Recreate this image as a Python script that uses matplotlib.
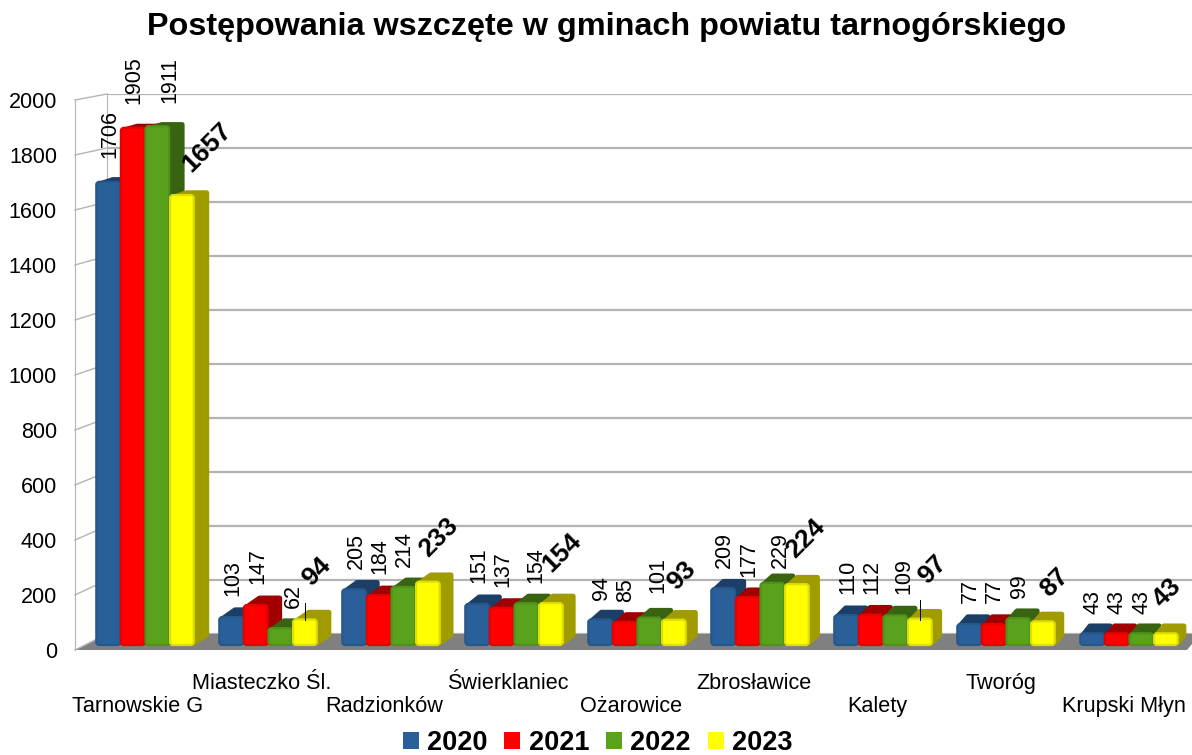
import matplotlib
matplotlib.use("Agg")
import matplotlib.pyplot as plt
from matplotlib.lines import Line2D
from matplotlib.patches import FancyBboxPatch, Patch, Polygon

W, H = 1192, 755

gminy = ["Tarnowskie G", "Miasteczko Śl.", "Radzionków", "Świerklaniec", "Ożarowice",
         "Zbrosławice", "Kalety", "Tworóg", "Krupski Młyn"]
years = ["2020", "2021", "2022", "2023"]
v2020 = [1706, 103, 205, 151, 94, 209, 110, 77, 43]
v2021 = [1905, 147, 184, 137, 85, 177, 112, 77, 43]
v2022 = [1911, 62, 214, 154, 101, 229, 109, 99, 43]
v2023 = [1657, 94, 233, 154, 93, 224, 97, 87, 43]
y_ticks = [0, 200, 400, 600, 800, 1000, 1200, 1400, 1600, 1800, 2000]

face_colors = ["#2a6099", "#ff0000", "#5aa21e", "#ffff00"]
edge_colors = ["#27588c", "#e60000", "#4f9119", "#e0e000"]
side_colors = ["#1b3f66", "#a00000", "#386310", "#a09c00"]

# hand placed label spots (x, bottom of text) in image pixels, as in the original
label_spots = [
    [(110, 158), (134, 104), (170, 103)],
    [(233, 596), (258, 584), (293, 608)],
    [(356, 569), (380, 574), (404, 567)],
    [(479, 583), (503, 587), (536, 583)],
    [(601, 600), (626, 602), (658, 593)],
    [(724, 568), (749, 577), (780, 568)],
    [(848, 594), (872, 594), (904, 594)],
    [(970, 603), (994, 603), (1019, 598)],
    [(1093, 614), (1117, 614), (1142, 614)],
]
bold_spots = [(207, 147), (317, 572), (439, 537), (562, 553), (682, 576),
              (806, 539), (933, 570), (1055, 583), (1167, 593)]
leaders = [(305, 603, 620), (920, 600, 620)]

plt.rcParams["font.family"] = ["Liberation Sans", "DejaVu Sans"]
grid_color = "#b3b3b3"


def fx(px):
    return px / W


def fy(py):
    return 1 - py / H


def axes_px(fig, left, top, right, bottom, **kw):
    return fig.add_axes([fx(left), fy(bottom), fx(right) - fx(left), fy(top) - fy(bottom)], **kw)


fig = plt.figure(figsize=(W / 100, H / 100), dpi=100)

# back wall with the grid
ax_back = axes_px(fig, 107, 94, 1192, 634, zorder=0)
ax_back.set_ylim(0, 2000)
ax_back.set_xticks([])
ax_back.set_yticks(y_ticks)
ax_back.tick_params(left=False, labelleft=False)
ax_back.grid(axis="y", color=grid_color, lw=1.6)
ax_back.set_axisbelow(True)
for name, spine in ax_back.spines.items():
    spine.set_visible(name == "left")
    spine.set_color(grid_color)

# front edge of the left wall, carries the value axis
ax_front = axes_px(fig, 75, 100, 76, 650, zorder=1)
ax_front.patch.set_visible(False)
ax_front.set_ylim(0, 2000)
ax_front.set_xticks([])
ax_front.set_yticks(y_ticks)
ax_front.set_yticklabels([str(t) for t in y_ticks])
ax_front.tick_params(axis="y", length=0, pad=13, labelsize=15.5)
for name, spine in ax_front.spines.items():
    spine.set_visible(name == "left")
    spine.set_color(grid_color)

# slanted lines on the left wall
for t in y_ticks:
    y_f = 650 - t * 0.275
    y_b = 634 - t * 0.27
    fig.add_artist(Line2D([fx(75), fx(107)], [fy(y_f), fy(y_b)], color=grid_color, lw=1, zorder=0.6))

floor = Polygon([(fx(75), fy(650)), (fx(107), fy(634)), (fx(1192), fy(634)),
                 (fx(1192), fy(644)), (fx(1187), fy(650))],
                closed=True, transform=fig.transFigure, facecolor="#808080", edgecolor="none", zorder=0.5)
fig.add_artist(floor)

# bars: one category = 123 px, 2000 = 543 px
ax = axes_px(fig, 75, 102, 1192, 645, zorder=2)
ax.patch.set_visible(False)
ax.set_xlim((75 - 145) / 123, (1192 - 145) / 123)
ax.set_ylim(0, 2000)
ax.set_yticks([])
for spine in ax.spines.values():
    spine.set_visible(False)

x_px = 1 / 123
y_px = 2000 / 543
bar_w = 0.2
series = [v2020, v2021, v2022, v2023]

for i in range(len(gminy)):
    # the view is in perspective, depth shrinks to the right
    dx = (15 - 0.85 * i) * x_px
    for s, vals in enumerate(series):
        v = vals[i]
        x0 = i + (s - 2) * bar_w
        x1 = x0 + bar_w
        dy_pix = 10 - v * 0.0031
        dy = dy_pix * y_px
        r_x, r_y = 2.5 * x_px, 2.5 * y_px
        side = Polygon([(x0 + r_x, v - r_y), (x0 + dx + 2 * x_px, v + dy - r_y),
                        (x1 + dx - r_x, v + dy - r_y), (x1 + dx - r_x, 10 * y_px),
                        (x1, r_y)],
                       closed=True, facecolor=side_colors[s], edgecolor=side_colors[s],
                       lw=3.6, joinstyle="round", clip_on=False)
        ax.add_patch(side)
        front = FancyBboxPatch((x0 + 0.5 * x_px, 0), bar_w - x_px, v,
                               boxstyle="round,pad=0,rounding_size=%f" % (3 * x_px),
                               mutation_aspect=y_px / x_px, facecolor=face_colors[s],
                               edgecolor=edge_colors[s], lw=1.6, clip_on=False)
        ax.add_patch(front)

# staggered category labels
ax.set_xticks([i * 1.002 - 7 / 123 for i in range(len(gminy))])
ax.set_xticklabels(gminy, fontsize=15.6)
ax.tick_params(axis="x", length=0)
for i, tick in enumerate(ax.xaxis.get_major_ticks()):
    tick.set_pad(20 if i % 2 else 36.5)

# value labels
for i, spots in enumerate(label_spots):
    for s, (lx, ly) in enumerate(spots):
        fig.text(fx(lx), fy(ly), str(series[s][i]), rotation=90, ha="center", va="bottom", fontsize=15.5, zorder=5)
    bx, by = bold_spots[i]
    fig.text(fx(bx), fy(by), str(v2023[i]), rotation=45, ha="center", va="center",
             rotation_mode="anchor", fontsize=19, fontweight="bold", zorder=5)

for lx, y0, y1 in leaders:
    fig.add_artist(Line2D([fx(lx), fx(lx)], [fy(y0), fy(y1)], color="black", lw=0.7, zorder=5))

fig.text(fx(607), fy(27), "Postępowania wszczęte w gminach powiatu tarnogórskiego",
         ha="center", va="center", fontsize=23.3, fontweight="bold")

handles = [Patch(facecolor=c, edgecolor="none", label=y) for c, y in zip(face_colors, years)]
fig.legend(handles=handles, loc="center", bbox_to_anchor=(fx(597.5), fy(743)), ncol=4, frameon=False,
           prop={"size": 19.5, "weight": "bold"}, handlelength=0.6, handleheight=0.6,
           handletextpad=0.3, columnspacing=0.62, borderpad=0, borderaxespad=0)

fig.savefig("out.png", dpi=100)
